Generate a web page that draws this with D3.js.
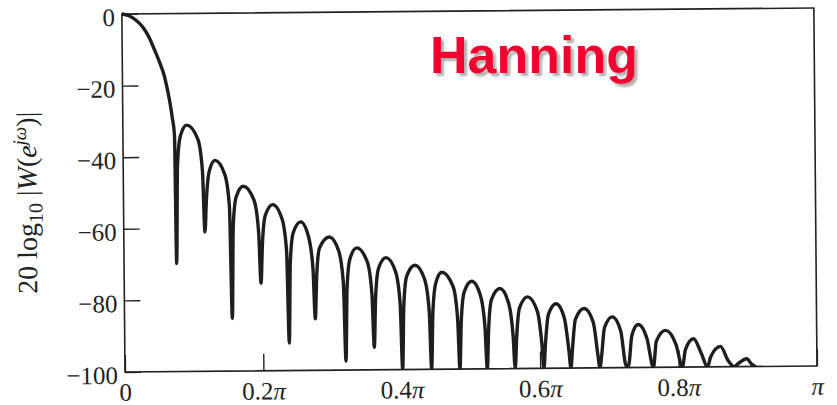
<!DOCTYPE html>
<html><head><meta charset="utf-8">
<script src="https://cdn.jsdelivr.net/npm/d3@7"></script>
<style>html,body{margin:0;padding:0;background:#fff;} svg{display:block;}</style>
</head><body>
<svg id="chart" width="837" height="405"></svg>
<script>
// Frequency in units of pi, magnitude in dB
const freq = [
  0, 0.010, 0.020, 0.030, 0.040, 0.045, 0.0545, 0.060, 0.064, 0.068, 0.0715, 0.0745, 0.0760,
  0.0785, 0.083, 0.0923, 0.1083, 0.1145, 0.1173,
  0.1198, 0.1243, 0.1327, 0.1468, 0.153, 0.1558,
  0.1583, 0.1628, 0.1733, 0.1887, 0.1949, 0.1977,
  0.2002, 0.2047, 0.2155, 0.2288, 0.235, 0.2378,
  0.2403, 0.2448, 0.2558, 0.2667, 0.2729, 0.2757,
  0.2782, 0.2827, 0.2969, 0.3105, 0.3167, 0.3195,
  0.322, 0.3265, 0.3364, 0.3516, 0.3578, 0.3606,
  0.3631, 0.3676, 0.3786, 0.3923, 0.3985, 0.4013,
  0.4038, 0.4083, 0.4204, 0.4342, 0.4404, 0.4432,
  0.4457, 0.4502, 0.4591, 0.4751, 0.4813, 0.4841,
  0.4866, 0.4911, 0.5022, 0.5146, 0.5208, 0.5236,
  0.5261, 0.5306, 0.5429, 0.555, 0.5612, 0.564,
  0.5665, 0.571, 0.5826, 0.5965, 0.6027, 0.6055,
  0.608, 0.6125, 0.6237, 0.6355, 0.6417, 0.6445,
  0.647, 0.6515, 0.6642, 0.6774, 0.6836, 0.6864,
  0.6889, 0.6934, 0.7048, 0.7169, 0.7231, 0.7259,
  0.7284, 0.7329, 0.7422, 0.7547, 0.7637,
  0.7682, 0.7816, 0.7966, 0.8056,
  0.8101, 0.822, 0.8328, 0.8418,
  0.8463, 0.8608, 0.8718, 0.8808,
  0.8853, 0.8986, 0.9054, 0.9104
];
const magDb = [
  0, -0.5, -1.7, -3.7, -7.0, -9.3, -13.9, -17.0, -20.4, -24.5, -29.0, -34.0, -69.8,
  -42.2, -34.2, -31.2, -35.2, -44.2, -61.1,
  -52.1, -44.1, -41.1, -45.1, -54.1, -85.3,
  -59.4, -51.4, -48.4, -52.4, -61.4, -75.5,
  -64.6, -56.6, -53.6, -57.6, -66.6, -92.3,
  -69.5, -61.5, -58.5, -62.5, -71.5, -85.6,
  -73.8, -65.8, -62.8, -66.8, -75.8, -97.5,
  -76.9, -68.9, -65.9, -69.9, -78.9, -93.7,
  -79.7, -71.7, -68.7, -72.7, -81.7, -100,
  -81.9, -73.9, -70.9, -74.9, -83.9, -100,
  -83.9, -75.9, -72.9, -76.9, -85.9, -100,
  -86.5, -78.5, -75.5, -79.5, -88.5, -100,
  -88.6, -80.6, -77.6, -81.6, -90.6, -100,
  -91, -83, -80, -84, -93, -100,
  -93, -85, -82, -86, -95, -100,
  -94.4, -86.4, -83.4, -87.4, -96.4, -100,
  -96.8, -88.8, -85.8, -89.8, -98.8, -100,
  -99, -91, -88, -92, -100,
  -92.7, -89.7, -93.7, -100,
  -95.1, -92.1, -96.1, -100,
  -97.3, -94.3, -98.3, -100,
  -99.3, -97.8, -99.3, -100
];
const yTickValues = [0, -20, -40, -60, -80, -100];
const yTickLabels = ["0", "\u221220", "\u221240", "\u221260", "\u221280", "\u2212100"];
const xTickValues = [0, 0.2, 0.4, 0.6, 0.8, 1];
const xTickLabels = ["0", "0.2\u03c0", "0.4\u03c0", "0.6\u03c0", "0.8\u03c0", "\u03c0"];
const titleText = "Hanning";

const X0 = 125, X1 = 817, Y0 = 372, Y1 = 14;
const serif = "'Liberation Serif', 'DejaVu Serif', serif";
const ink = "#222";

const x = d3.scaleLinear().domain([0, 1]).range([X0, X1]);
const y = d3.scaleLinear().domain([-100, 0]).range([Y0, Y1]);

const svg = d3.select("#chart");
svg.append("rect").attr("width", 837).attr("height", 405).attr("fill", "#fff");

const defs = svg.append("defs");
const f = defs.append("filter").attr("id", "shadow").attr("x", "-5%").attr("y", "-20%").attr("width", "115%").attr("height", "150%");
f.append("feDropShadow").attr("dx", 3).attr("dy", 3).attr("stdDeviation", 0.8)
  .attr("flood-color", "#9a9a9a").attr("flood-opacity", 0.8);

const g = svg.append("g").attr("transform", `rotate(-0.5, ${X0}, ${Y0})`);

g.append("clipPath").attr("id", "plotclip")
  .append("rect").attr("x", X0).attr("y", Y1 - 2).attr("width", X1 - X0).attr("height", Y0 - Y1 + 2);

// axes
const yAxis = d3.axisLeft(y).tickValues(yTickValues)
  .tickFormat((d, i) => yTickLabels[i]).tickSizeInner(-16).tickSizeOuter(0).tickPadding(7);
const yg = g.append("g").attr("transform", `translate(${X0},0)`).call(yAxis);

const xAxis = d3.axisBottom(x).tickValues(xTickValues)
  .tickFormat((d, i) => xTickLabels[i]).tickSizeInner(-17).tickSizeOuter(0).tickPadding(11);
const xg = g.append("g").attr("transform", `translate(0,${Y0})`).call(xAxis);

[yg, xg].forEach(a => {
  a.select(".domain").remove();
  a.selectAll(".tick line").attr("stroke", ink).attr("stroke-width", 1.4);
  a.selectAll(".tick text").attr("fill", ink).style("font-family", serif).style("font-size", "25px");
});
yg.selectAll(".tick text").attr("dy", "0.45em");

// italic pi in x labels
xg.selectAll(".tick text").each(function(d, i) {
  const t = d3.select(this);
  const s = xTickLabels[i];
  t.text(null);
  const k = s.indexOf("\u03c0");
  if (k < 0) { t.append("tspan").text(s); }
  else {
    if (k > 0) t.append("tspan").text(s.slice(0, k));
    t.append("tspan").style("font-style", "italic").text("\u03c0");
  }
});

// frame
g.append("rect").attr("x", X0).attr("y", Y1).attr("width", X1 - X0).attr("height", Y0 - Y1)
  .attr("fill", "none").attr("stroke", ink).attr("stroke-width", 1.6);

// curve
const pts = freq.map((fq, i) => [fq, magDb[i]]);
const line = d3.line().x(d => x(d[0])).y(d => y(d[1])).curve(d3.curveMonotoneX);
g.append("path").attr("d", line(pts)).attr("clip-path", "url(#plotclip)")
  .attr("fill", "none").attr("stroke", "#1e1e1e").attr("stroke-width", 3.4)
  .attr("stroke-linejoin", "round").attr("stroke-linecap", "round");

// y label
const yl = g.append("text")
  .attr("transform", "translate(38,202) rotate(-90)")
  .attr("text-anchor", "middle")
  .attr("fill", ink)
  .style("font-family", serif).style("font-size", "28px");
yl.append("tspan").text("20 log");
yl.append("tspan").attr("dy", 6).style("font-size", "20px").text("10");
yl.append("tspan").attr("dy", -6).text(" |");
yl.append("tspan").style("font-style", "italic").text("W");
yl.append("tspan").text("(");
yl.append("tspan").style("font-style", "italic").text("e");
yl.append("tspan").attr("dy", -10).style("font-size", "19px").style("font-style", "italic").text("j\u03c9");
yl.append("tspan").attr("dy", 10).text(")|");

// title
svg.append("text").attr("x", 430).attr("y", 73)
  .attr("fill", "#f20030").attr("filter", "url(#shadow)")
  .style("font-family", "'Liberation Sans', Arial, sans-serif")
  .style("font-weight", "bold").style("font-size", "52px").text(titleText);
</script>
</body></html>
